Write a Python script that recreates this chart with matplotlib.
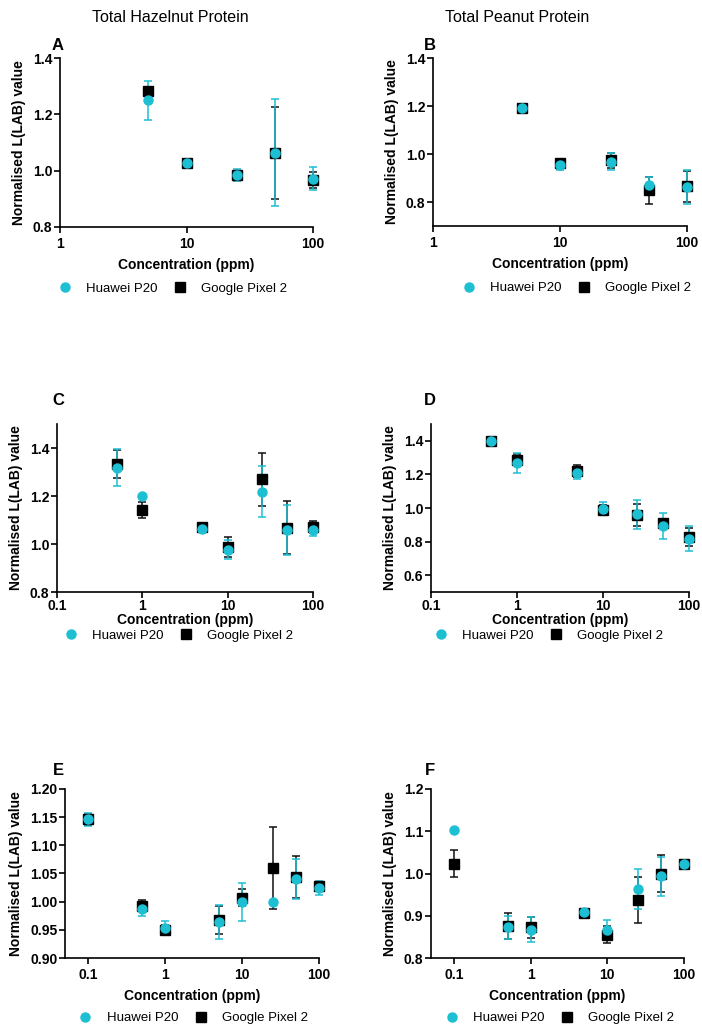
import matplotlib
matplotlib.use('Agg')
import matplotlib.pyplot as plt
from matplotlib.ticker import NullLocator

plt.rcParams['font.family'] = ['Liberation Sans', 'DejaVu Sans']

CYAN = '#1dbfd3'
BLACK = '#111111'

# --- data ---
# A: total hazelnut protein
conc_a = [5, 10, 25, 50, 100]
huawei_a = [1.250, 1.027, 0.985, 1.063, 0.972]
huawei_a_err = [0.070, 0.004, 0.022, 0.190, 0.040]
pixel_a = [1.283, 1.027, 0.983, 1.063, 0.967]
pixel_a_err = [0.005, 0.004, 0.012, 0.162, 0.030]

# B: total peanut protein
conc_b = [5, 10, 25, 50, 100]
huawei_b = [1.193, 0.955, 0.968, 0.870, 0.862]
huawei_b_err = [0.005, 0.022, 0.035, 0.034, 0.070]
pixel_b = [1.193, 0.962, 0.973, 0.848, 0.865]
pixel_b_err = [0.005, 0.010, 0.032, 0.058, 0.065]

# C
conc_c = [0.5, 1, 5, 10, 25, 50, 100]
huawei_c = [1.318, 1.200, 1.063, 0.977, 1.217, 1.060, 1.060]
huawei_c_err = [0.077, 0.0, 0.010, 0.040, 0.106, 0.104, 0.025]
pixel_c = [1.333, 1.140, 1.072, 0.987, 1.270, 1.068, 1.070]
pixel_c_err = [0.058, 0.033, 0.010, 0.042, 0.110, 0.110, 0.025]

# D
conc_d = [0.5, 1, 5, 10, 25, 50, 100]
huawei_d = [1.400, 1.267, 1.207, 0.997, 0.962, 0.893, 0.817]
huawei_d_err = [0.006, 0.058, 0.035, 0.040, 0.085, 0.080, 0.073]
pixel_d = [1.400, 1.288, 1.218, 0.990, 0.957, 0.910, 0.826]
pixel_d_err = [0.006, 0.035, 0.035, 0.030, 0.065, 0.020, 0.055]

# E
conc_e = [0.1, 0.5, 1, 5, 10, 25, 50, 100]
huawei_e = [1.146, 0.987, 0.954, 0.964, 1.000, 1.000, 1.040, 1.024]
huawei_e_err = [0.011, 0.012, 0.011, 0.030, 0.034, 0.0, 0.035, 0.012]
pixel_e = [1.146, 0.993, 0.950, 0.967, 1.007, 1.060, 1.044, 1.027]
pixel_e_err = [0.010, 0.010, 0.009, 0.025, 0.015, 0.073, 0.037, 0.007]

# F
conc_f = [0.1, 0.5, 1, 5, 10, 25, 50, 100]
huawei_f = [1.103, 0.873, 0.867, 0.908, 0.867, 0.963, 0.993, 1.022]
huawei_f_err = [0.0, 0.027, 0.030, 0.006, 0.023, 0.047, 0.047, 0.008]
pixel_f = [1.023, 0.876, 0.873, 0.907, 0.855, 0.937, 1.000, 1.023]
pixel_f_err = [0.032, 0.030, 0.025, 0.008, 0.020, 0.055, 0.043, 0.008]

titles = ['Total Hazelnut Protein', 'Total Peanut Protein']
series_names = ['Huawei P20', 'Google Pixel 2']
xlabel = 'Concentration (ppm)'
ylabel = 'Normalised L(LAB) value'

W, H = 702, 1035
fig = plt.figure(figsize=(W / 100, H / 100), dpi=100)


def rect(l, t, r, b):
    return [l / W, 1 - b / H, (r - l) / W, (b - t) / H]


panels = [
    # letter, data, axes box (px), xlim, xticks, ylim, yticks, fmt, legend anchor, letter pos, pads
    ('A', conc_a, huawei_a, huawei_a_err, pixel_a, pixel_a_err, (60, 58, 313, 227),
     (1, 100), [1, 10, 100], (0.8, 1.4), [0.8, 1.0, 1.2, 1.4], '%.1f', (0.445, -0.365), (52, 50), (3.5, 5)),
    ('B', conc_b, huawei_b, huawei_b_err, pixel_b, pixel_b_err, (433, 58, 687, 226),
     (1, 100), [1, 10, 100], (0.7, 1.4), [0.8, 1.0, 1.2, 1.4], '%.1f', (0.565, -0.37), (424, 50), (3.5, 5)),
    ('C', conc_c, huawei_c, huawei_c_err, pixel_c, pixel_c_err, (57, 424, 313, 592),
     (0.1, 100), [0.1, 1, 10, 100], (0.8, 1.5), [0.8, 1.0, 1.2, 1.4], '%.1f', (0.475, -0.26), (52, 405), (0.8, 0.5)),
    ('D', conc_d, huawei_d, huawei_d_err, pixel_d, pixel_d_err, (431, 424, 689, 592),
     (0.1, 100), [0.1, 1, 10, 100], (0.5, 1.5), [0.6, 0.8, 1.0, 1.2, 1.4], '%.1f', (0.455, -0.26), (424, 405), (0.8, 0.5)),
    ('E', conc_e, huawei_e, huawei_e_err, pixel_e, pixel_e_err, (65, 789, 319, 958),
     (0.05, 100), [0.1, 1, 10, 100], (0.9, 1.2), [0.9, 0.95, 1.0, 1.05, 1.1, 1.15, 1.2], '%.2f', (0.505, -0.357), (53, 775), (3.5, 5)),
    ('F', conc_f, huawei_f, huawei_f_err, pixel_f, pixel_f_err, (431, 789, 684, 958),
     (0.05, 100), [0.1, 1, 10, 100], (0.8, 1.2), [0.8, 0.9, 1.0, 1.1, 1.2], '%.1f', (0.51, -0.357), (425, 775), (3.5, 5)),
]

for (letter, conc, hw, hw_err, px, px_err, box, xlim, xticks, ylim, yticks, fmt,
     leg_xy, let_xy, pads) in panels:
    ax = fig.add_axes(rect(*box))

    ax.errorbar(conc, px, yerr=px_err, fmt='none', ecolor=BLACK, elinewidth=1.1,
                capsize=3.2, capthick=1.1, clip_on=False, zorder=2)
    ax.errorbar(conc, hw, yerr=hw_err, fmt='none', ecolor=CYAN, elinewidth=1.1,
                capsize=3.2, capthick=1.1, clip_on=False, zorder=3)
    h_px, = ax.plot(conc, px, 's', color='black', ms=7, clip_on=False, zorder=4,
                    label=series_names[1])
    h_hw, = ax.plot(conc, hw, 'o', color=CYAN, ms=6.5, mec=CYAN, clip_on=False, zorder=5,
                    label=series_names[0])

    ax.set_xscale('log')
    ax.set_xlim(*xlim)
    ax.set_ylim(*ylim)
    ax.set_xticks(xticks)
    ax.set_xticklabels([('%g' % t) for t in xticks])
    ax.xaxis.set_minor_locator(NullLocator())
    ax.set_yticks(yticks)
    ax.set_yticklabels([fmt % t for t in yticks])

    for s in ['top', 'right']:
        ax.spines[s].set_visible(False)
    for s in ['left', 'bottom']:
        ax.spines[s].set_linewidth(1.2)
    ax.tick_params(axis='both', direction='out', length=4, width=1.2, labelsize=10)
    ax.tick_params(axis='x', pad=pads[0])
    ax.tick_params(axis='y', pad=1.5)
    for lab in ax.get_xticklabels() + ax.get_yticklabels():
        lab.set_fontweight('bold')

    ax.set_xlabel(xlabel, fontsize=10, fontweight='bold', labelpad=pads[1])
    ax.set_ylabel(ylabel, fontsize=10, fontweight='bold', labelpad=5)

    ax.legend(handles=[h_hw, h_px], ncol=2, loc='center', bbox_to_anchor=leg_xy,
              frameon=False, fontsize=9.5, handlelength=1.0, handletextpad=1.1,
              columnspacing=1.2, borderpad=0)

    fig.text(let_xy[0] / W, 1 - let_xy[1] / H, letter, fontsize=12, fontweight='bold',
             ha='left', va='baseline')

fig.text(170 / W, 1 - 17 / H, titles[0], fontsize=11.5, ha='center', va='center')
fig.text(517 / W, 1 - 17 / H, titles[1], fontsize=11.5, ha='center', va='center')

fig.savefig('out.png', dpi=100)
